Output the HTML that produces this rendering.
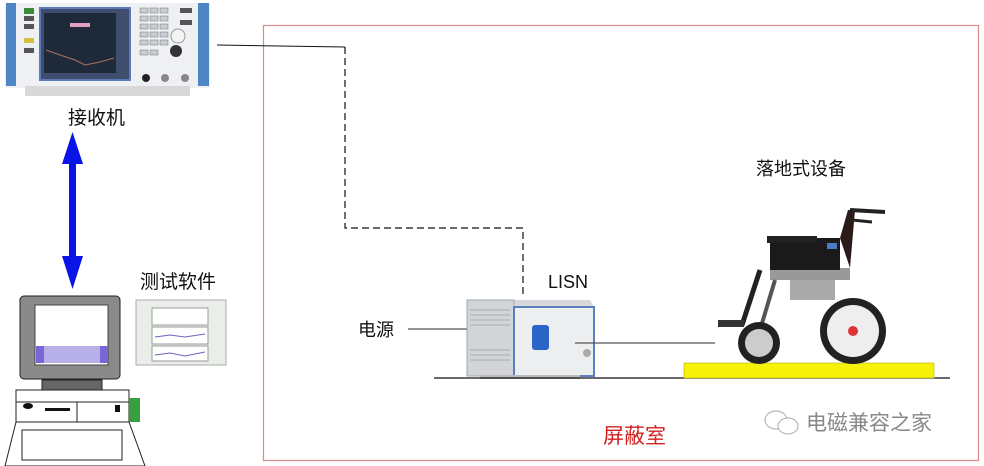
<!DOCTYPE html>
<html><head><meta charset="utf-8"><style>
html,body{margin:0;padding:0;background:#fff;}
svg{display:block;}
text{font-family:"Liberation Sans","Noto Sans CJK SC",sans-serif;}
</style></head><body>
<svg width="984" height="466" viewBox="0 0 984 466" xmlns="http://www.w3.org/2000/svg">
<rect x="0" y="0" width="984" height="466" fill="#fff"/>
<rect x="263.5" y="25.5" width="715" height="435" fill="none" stroke="#d98a8a" stroke-width="1.2"/>
<!-- receiver -->
<rect x="5" y="3" width="205" height="85" fill="#eef0f3"/>
<rect x="6" y="3" width="10" height="83" fill="#4f86c6"/>
<rect x="198" y="3" width="11" height="83" fill="#4f86c6"/>
<rect x="40" y="8" width="90" height="72" fill="#3f4e6e" stroke="#5c79b8" stroke-width="2"/>
<rect x="44" y="13" width="72" height="60" fill="#1e2a3a"/>
<polyline points="46,50 60,55 75,60 85,65 100,62 114,58" fill="none" stroke="#b07060" stroke-width="1"/>
<rect x="70" y="23" width="20" height="4" fill="#e0a0c0"/>
<rect x="24" y="8" width="10" height="6" fill="#3a8a3a"/>
<rect x="24" y="16" width="10" height="5" fill="#555"/>
<rect x="24" y="24" width="10" height="5" fill="#555"/>
<rect x="24" y="38" width="10" height="5" fill="#d4c040"/>
<rect x="24" y="48" width="10" height="5" fill="#555"/>
<g fill="#c8ccd4" stroke="#777" stroke-width="0.5">
<rect x="140" y="8" width="8" height="5"/><rect x="150" y="8" width="8" height="5"/><rect x="160" y="8" width="8" height="5"/>
<rect x="140" y="16" width="8" height="5"/><rect x="150" y="16" width="8" height="5"/><rect x="160" y="16" width="8" height="5"/>
<rect x="140" y="24" width="8" height="5"/><rect x="150" y="24" width="8" height="5"/><rect x="160" y="24" width="8" height="5"/>
<rect x="140" y="32" width="8" height="5"/><rect x="150" y="32" width="8" height="5"/><rect x="160" y="32" width="8" height="5"/>
<rect x="140" y="40" width="8" height="5"/><rect x="150" y="40" width="8" height="5"/><rect x="160" y="40" width="8" height="5"/>
<rect x="140" y="50" width="8" height="5"/><rect x="150" y="50" width="8" height="5"/>
</g>
<rect x="180" y="8" width="12" height="5" fill="#555"/>
<rect x="180" y="20" width="12" height="5" fill="#555"/>
<circle cx="178" cy="36" r="7" fill="#f4f4f4" stroke="#999"/>
<circle cx="176" cy="51" r="6" fill="#333"/>
<circle cx="146" cy="78" r="4" fill="#222"/>
<circle cx="165" cy="78" r="4" fill="#888"/>
<circle cx="185" cy="78" r="4" fill="#888"/>
<rect x="25" y="86" width="165" height="10" fill="#d8d8d8"/>
<text x="68" y="124" font-size="19" fill="#111">接收机</text>
<rect x="69" y="155" width="7" height="105" fill="#0a14e6"/>
<polygon points="72.5,132 62,164 83,164" fill="#0a14e6"/>
<polygon points="72.5,289 62,256 83,256" fill="#0a14e6"/>
<!-- computer -->
<rect x="20" y="296" width="100" height="83" rx="4" fill="#8a8a8a" stroke="#222"/>
<rect x="35" y="305" width="73" height="60" fill="#ffffff" stroke="#444"/>
<rect x="36" y="346" width="72" height="17" fill="#7b66d8"/>
<rect x="44" y="346" width="56" height="17" fill="#b8b0e8"/>
<rect x="42" y="380" width="60" height="10" fill="#666" stroke="#222"/>
<rect x="16" y="390" width="113" height="32" fill="#fff" stroke="#222"/>
<line x1="16" y1="402" x2="129" y2="402" stroke="#222"/>
<line x1="77" y1="402" x2="77" y2="422" stroke="#222"/>
<ellipse cx="28" cy="406" rx="5" ry="3" fill="#111"/>
<rect x="45" y="408" width="25" height="3" fill="#111"/>
<rect x="115" y="405" width="5" height="7" fill="#111"/>
<rect x="129" y="398" width="11" height="24" fill="#39a040"/>
<polygon points="16,422 129,422 145,466 5,466" fill="#fff" stroke="#222"/>
<rect x="22" y="430" width="100" height="30" fill="none" stroke="#222"/>
<text x="140" y="288" font-size="19" fill="#111">测试软件</text>
<rect x="136" y="300" width="90" height="65" fill="#e9eee8" stroke="#aaa"/>
<rect x="152" y="308" width="56" height="17" fill="#fff" stroke="#999"/>
<rect x="152" y="327" width="56" height="17" fill="#fff" stroke="#999"/>
<rect x="152" y="346" width="56" height="15" fill="#fff" stroke="#999"/>
<polyline points="155,337 170,335 185,337 205,334" fill="none" stroke="#7060c0"/>
<polyline points="155,355 170,353 185,356 205,352" fill="none" stroke="#7060c0"/>
<!-- connections -->
<line x1="217" y1="45" x2="345" y2="47" stroke="#111" stroke-width="1"/>
<polyline points="345,47 345,228 523,228 523,296" fill="none" stroke="#111" stroke-width="1.2" stroke-dasharray="7,4"/>
<text x="358" y="336" font-size="18" fill="#111">电源</text>
<line x1="408" y1="329" x2="467" y2="329" stroke="#555" stroke-width="1.2"/>
<text x="548" y="288" font-size="18" fill="#111">LISN</text>
<!-- LISN -->
<polygon points="467,300 590,300 594,307 471,307" fill="#d6d8dc"/>
<rect x="467" y="300" width="47" height="76" fill="#d2d4d8" stroke="#9aa"/>
<g stroke="#aaa" stroke-width="1"><line x1="470" y1="310" x2="510" y2="310"/><line x1="470" y1="315" x2="510" y2="315"/><line x1="470" y1="320" x2="510" y2="320"/><line x1="470" y1="325" x2="510" y2="325"/><line x1="470" y1="350" x2="510" y2="350"/><line x1="470" y1="355" x2="510" y2="355"/><line x1="470" y1="360" x2="510" y2="360"/></g>
<rect x="514" y="307" width="80" height="69" fill="#eceef0" stroke="#5a80c0" stroke-width="2"/>
<rect x="532" y="325" width="17" height="25" rx="3" fill="#2a66c8"/>
<circle cx="587" cy="353" r="4" fill="#aaa"/>
<rect x="480" y="375" width="100" height="4" fill="#bbb"/>
<line x1="575" y1="343" x2="715" y2="343" stroke="#555" stroke-width="1.2"/>
<line x1="434" y1="378" x2="950" y2="378" stroke="#111" stroke-width="1.2"/>
<rect x="684" y="363" width="250" height="15" fill="#f6f20a" stroke="#b8b000" stroke-width="0.6"/>
<!-- wheelchair -->
<text x="756" y="175" font-size="18" fill="#111">落地式设备</text>
<rect x="770" y="268" width="80" height="12" fill="#999"/>
<rect x="790" y="280" width="45" height="20" fill="#aaa"/>
<line x1="760" y1="270" x2="742" y2="325" stroke="#222" stroke-width="5"/>
<line x1="775" y1="280" x2="760" y2="330" stroke="#555" stroke-width="4"/>
<rect x="718" y="320" width="26" height="7" fill="#333"/>
<circle cx="853" cy="331" r="33" fill="#222"/>
<circle cx="853" cy="331" r="26" fill="#eee"/>
<circle cx="853" cy="331" r="5" fill="#d33"/>
<circle cx="759" cy="343" r="21" fill="#222"/>
<circle cx="759" cy="343" r="14" fill="#ccc"/>
<rect x="770" y="238" width="70" height="32" fill="#1a1a1a"/>
<rect x="767" y="236" width="50" height="7" fill="#222"/>
<rect x="827" y="243" width="10" height="6" fill="#4a7ac8"/>
<polygon points="840,238 848,210 855,210 850,268" fill="#2a1a1a"/>
<line x1="850" y1="210" x2="885" y2="212" stroke="#222" stroke-width="4"/>
<line x1="852" y1="220" x2="872" y2="222" stroke="#222" stroke-width="3"/>
<text x="603" y="443" font-size="21" fill="#d42020">屏蔽室</text>
<ellipse cx="776" cy="420" rx="11" ry="9" fill="none" stroke="#aaa"/>
<ellipse cx="788" cy="426" rx="10" ry="8" fill="#fff" stroke="#aaa"/>
<text x="806" y="430" font-size="21" fill="#888">电磁兼容之家</text>
</svg>
</body></html>
